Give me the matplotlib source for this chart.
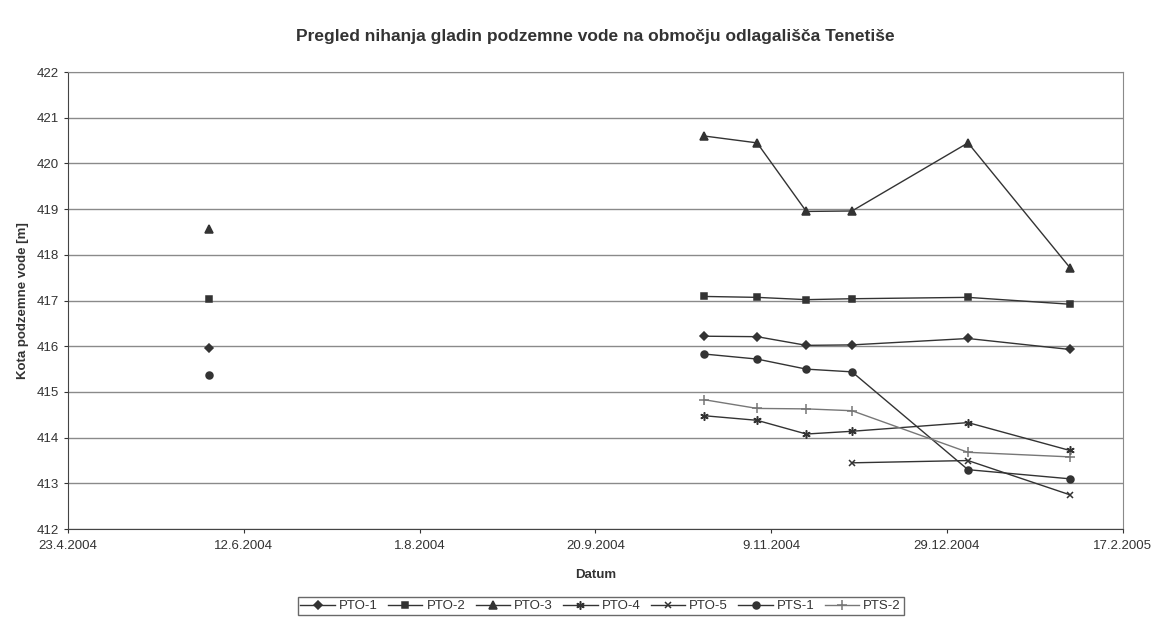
from datetime import datetime, timedelta
import numpy as np
import matplotlib.pyplot as plt
import matplotlib.dates as mdates

plt.rcParams['font.family'] = ['Liberation Sans', 'DejaVu Sans']

# Measurement dates (first one is a lone measurement, the rest form a series)
dates = [datetime(2004, 6, 2), datetime(2004, 10, 21), datetime(2004, 11, 5),
         datetime(2004, 11, 19), datetime(2004, 12, 2), datetime(2005, 1, 4),
         datetime(2005, 2, 2)]

nan = np.nan
pto1 = [415.97, 416.22, 416.21, 416.02, 416.03, 416.17, 415.93]
pto2 = [417.03, 417.09, 417.07, 417.02, 417.04, 417.07, 416.92]
pto3 = [418.57, 420.6, 420.45, 418.95, 418.96, 420.45, 417.72]
pto4 = [nan, 414.48, 414.38, 414.08, 414.14, 414.33, 413.72]
pto5 = [nan, nan, nan, nan, 413.45, 413.5, 412.75]
pts1 = [415.38, 415.83, 415.72, 415.5, 415.44, 413.3, 413.1]
pts2 = [nan, 414.83, 414.64, 414.63, 414.59, 413.68, 413.58]

series = [
    ("PTO-1", pto1, "D", 4, "#333333"),
    ("PTO-2", pto2, "s", 4.5, "#333333"),
    ("PTO-3", pto3, "^", 5.5, "#333333"),
    ("PTO-4", pto4, (6, 2, 0), 6, "#333333"),
    ("PTO-5", pto5, "x", 4.5, "#333333"),
    ("PTS-1", pts1, "o", 5, "#333333"),
    ("PTS-2", pts2, "+", 6.5, "#777777"),
]

fig = plt.figure(figsize=(11.55, 6.21), dpi=100)
ax = fig.add_axes([0.059, 0.148, 0.913, 0.736])

for name, vals, mk, ms, col in series:
    # lone first measurement: marker only, not joined to the later series
    ax.plot(dates[:1], vals[:1], linestyle="none", marker=mk, markersize=ms,
            color=col, markeredgecolor=col, markeredgewidth=1.1)
    ax.plot(dates[1:], vals[1:], linestyle="-", linewidth=1.0, marker=mk,
            markersize=ms, color=col, markeredgecolor=col,
            markeredgewidth=1.1, label=name)

start = datetime(2004, 4, 23)
ticks = [start + timedelta(days=50 * i) for i in range(7)]
ax.set_xlim(ticks[0], ticks[-1])
ax.set_xticks(ticks)
ax.xaxis.set_major_formatter(
    plt.FuncFormatter(lambda v, p: "{0.day}.{0.month}.{0.year}".format(mdates.num2date(v))))
ax.set_ylim(412, 422)
ax.set_yticks(range(412, 423))

ax.grid(axis="y", color="#8a8a8a", linewidth=1.0)
ax.set_axisbelow(True)
for s in ["top", "right"]:
    ax.spines[s].set_color("#8a8a8a")
for s in ["left", "bottom"]:
    ax.spines[s].set_color("#444444")
ax.tick_params(axis="both", labelsize=9.5, colors="#333333", length=3, direction="out")
ax.tick_params(axis="x", pad=5)

ax.set_title("Pregled nihanja gladin podzemne vode na območju odlagališča Tenetiše",
             fontsize=12.5, fontweight="bold", color="#333333", pad=22)
ax.set_xlabel("Datum", fontsize=9.5, fontweight="bold", color="#333333", labelpad=12)
ax.set_ylabel("Kota podzemne vode [m]", fontsize=9.5, fontweight="bold",
              color="#333333", labelpad=6)

leg = ax.legend(loc="upper center", bbox_to_anchor=(0.505, -0.135), ncol=7,
                fontsize=9.5, frameon=True, fancybox=False, edgecolor="#444444",
                handlelength=2.6, handletextpad=0.3, columnspacing=0.8,
                borderpad=0.2)
for t in leg.get_texts():
    t.set_color("#333333")

fig.savefig("out.png", dpi=100, facecolor="white")
